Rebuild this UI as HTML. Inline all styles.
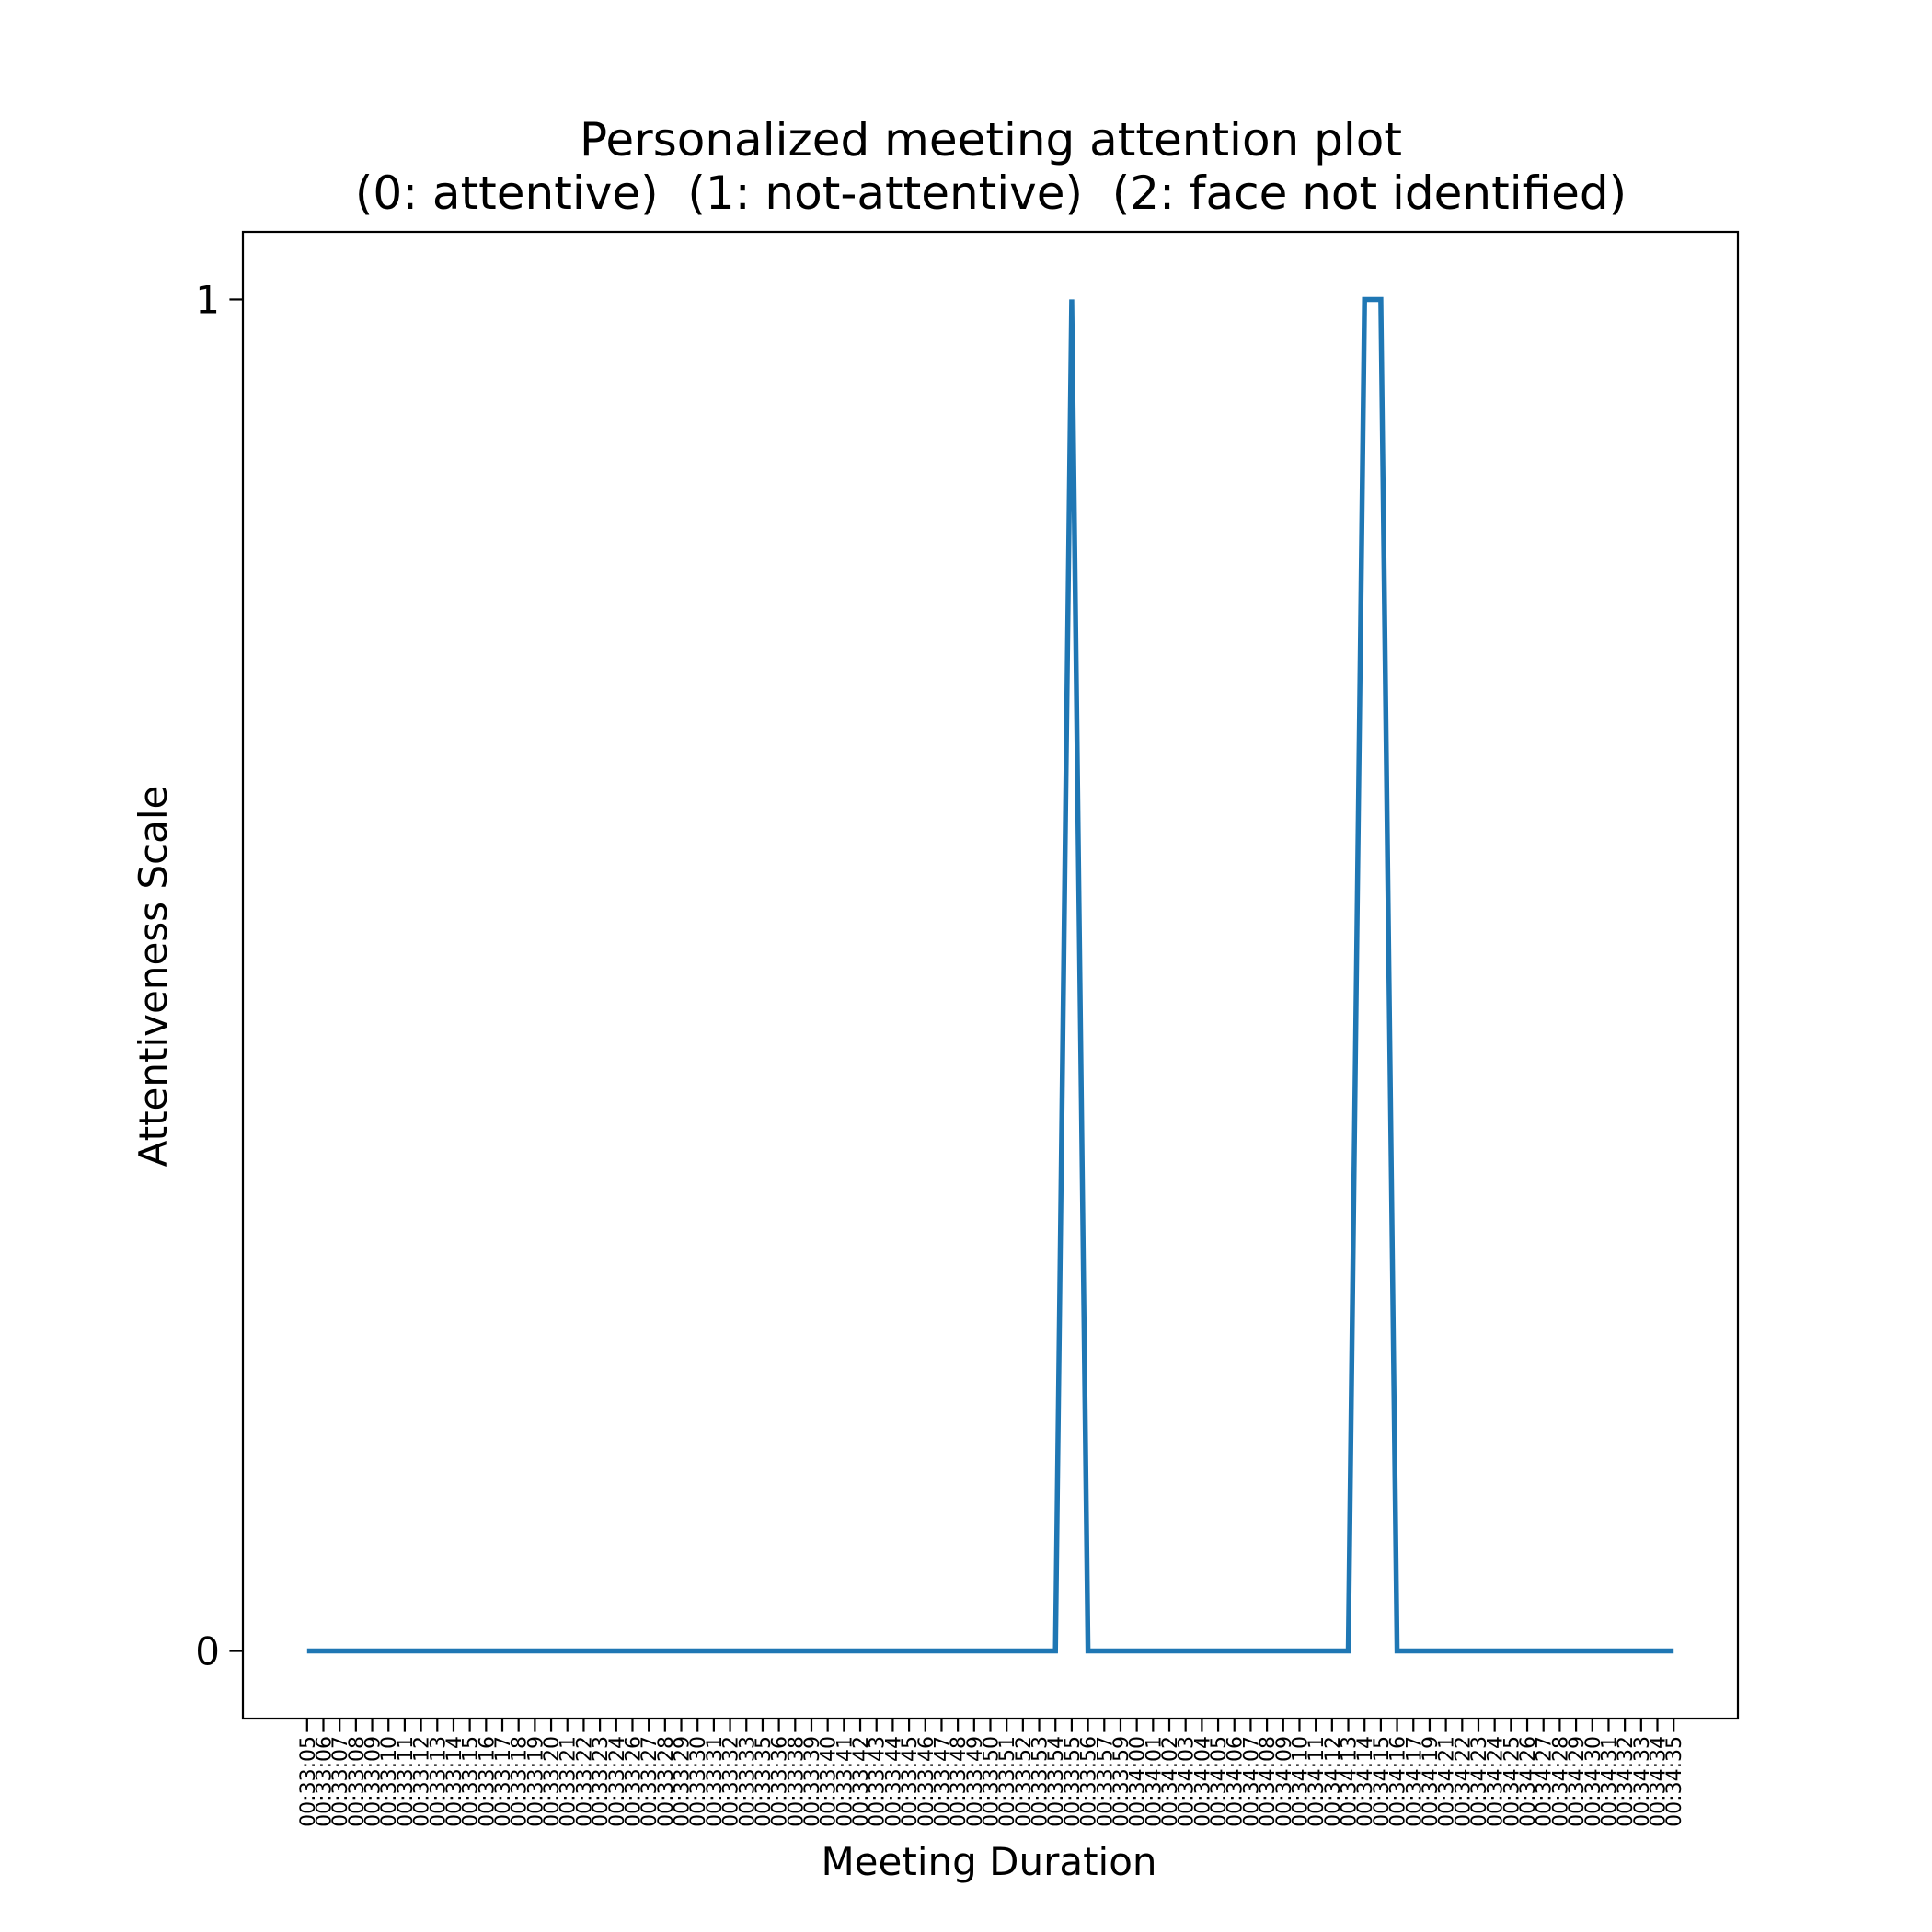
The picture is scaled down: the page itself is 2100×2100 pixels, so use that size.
<!DOCTYPE html>
<html><head><meta charset="utf-8"><style>
html,body{margin:0;padding:0;background:#fff}
svg{display:block;font-family:"DejaVu Sans","Liberation Sans",sans-serif}
</style></head><body>
<svg id="chart" width="2100" height="2100" viewBox="0 0 2100 2100">
<rect x="0" y="0" width="2100" height="2100" fill="#fff"/>
<text x="1077" y="169" font-size="50" text-anchor="middle">Personalized meeting attention plot</text>
<text x="1077" y="227" font-size="50" text-anchor="middle" xml:space="preserve" style="white-space:pre">(0: attentive)  (1: not-attentive)  (2: face not identified)</text>
<g id="plot"></g>
<rect x="264" y="252" width="1625" height="1616" fill="none" stroke="#000" stroke-width="2.2"/>
<text x="1075" y="2038" font-size="42" text-anchor="middle">Meeting Duration</text>
<text x="0" y="0" font-size="42" text-anchor="middle" transform="translate(181,1061) rotate(-90)">Attentiveness Scale</text>
</svg>
<script>
const categories = ["00:33:05","00:33:06","00:33:07","00:33:08","00:33:09","00:33:10","00:33:11","00:33:12","00:33:13","00:33:14","00:33:15","00:33:16","00:33:17","00:33:18","00:33:19","00:33:20","00:33:21","00:33:22","00:33:23","00:33:24","00:33:26","00:33:27","00:33:28","00:33:29","00:33:30","00:33:31","00:33:32","00:33:33","00:33:35","00:33:36","00:33:38","00:33:39","00:33:40","00:33:41","00:33:42","00:33:43","00:33:44","00:33:45","00:33:46","00:33:47","00:33:48","00:33:49","00:33:50","00:33:51","00:33:52","00:33:53","00:33:54","00:33:55","00:33:56","00:33:57","00:33:59","00:34:00","00:34:01","00:34:02","00:34:03","00:34:04","00:34:05","00:34:06","00:34:07","00:34:08","00:34:09","00:34:10","00:34:11","00:34:12","00:34:13","00:34:14","00:34:15","00:34:16","00:34:17","00:34:19","00:34:21","00:34:22","00:34:23","00:34:24","00:34:25","00:34:26","00:34:27","00:34:28","00:34:29","00:34:30","00:34:31","00:34:32","00:34:33","00:34:34","00:34:35"];
const values = [0,0,0,0,0,0,0,0,0,0,0,0,0,0,0,0,0,0,0,0,0,0,0,0,0,0,0,0,0,0,0,0,0,0,0,0,0,0,0,0,0,0,0,0,0,0,0,1,0,0,0,0,0,0,0,0,0,0,0,0,0,0,0,0,0,1,1,0,0,0,0,0,0,0,0,0,0,0,0,0,0,0,0,0,0];
const yTicks = [0,1];
const yTickLabels = ["0","1"];

const NS = "http://www.w3.org/2000/svg";
const plot = document.getElementById("plot");
const L = 264, R = 1889, T = 252, B = 1868;
const n = categories.length;
const xPad = (n - 1) * 0.047;
function xScale(i){ return L + (i + xPad) / ((n - 1) + 2 * xPad) * (R - L); }
function yScale(v){ return B - (v + 0.05) / 1.1 * (B - T); }

yTicks.forEach((t, k) => {
  const y = yScale(t);
  const tk = document.createElementNS(NS, "line");
  tk.setAttribute("x1", L - 14.6); tk.setAttribute("x2", L);
  tk.setAttribute("y1", y); tk.setAttribute("y2", y);
  tk.setAttribute("stroke", "#000"); tk.setAttribute("stroke-width", "2.2");
  
  
  plot.appendChild(tk);
  const tl = document.createElementNS(NS, "text");
  tl.setAttribute("x", L - 25); tl.setAttribute("y", y + 15);
  tl.setAttribute("font-size", "42"); tl.setAttribute("text-anchor", "end");
  tl.textContent = yTickLabels[k];
  
  
  plot.appendChild(tl);
});

categories.forEach((c, i) => {
  const x = xScale(i);
  const tk = document.createElementNS(NS, "line");
  tk.setAttribute("x1", x); tk.setAttribute("x2", x);
  tk.setAttribute("y1", B); tk.setAttribute("y2", B + 14.6);
  tk.setAttribute("stroke", "#000"); tk.setAttribute("stroke-width", "2.2");
  
  
  plot.appendChild(tk);
  const tl = document.createElementNS(NS, "text");
  tl.setAttribute("font-size", "22");
  tl.setAttribute("text-anchor", "end");
  tl.setAttribute("transform", "translate(" + (x + 8) + "," + (B + 19) + ") rotate(-90)");
  tl.textContent = c;
  
  
  plot.appendChild(tl);
});

const pts = values.map((v, i) => xScale(i).toFixed(2) + "," + yScale(v).toFixed(2)).join(" ");
const line = document.createElementNS(NS, "polyline");
line.setAttribute("points", pts);
line.setAttribute("fill", "none");
line.setAttribute("stroke", "#1f77b4");
line.setAttribute("stroke-width", "5.5");
line.setAttribute("stroke-linejoin", "miter");


plot.appendChild(line);
</script>
</body></html>
